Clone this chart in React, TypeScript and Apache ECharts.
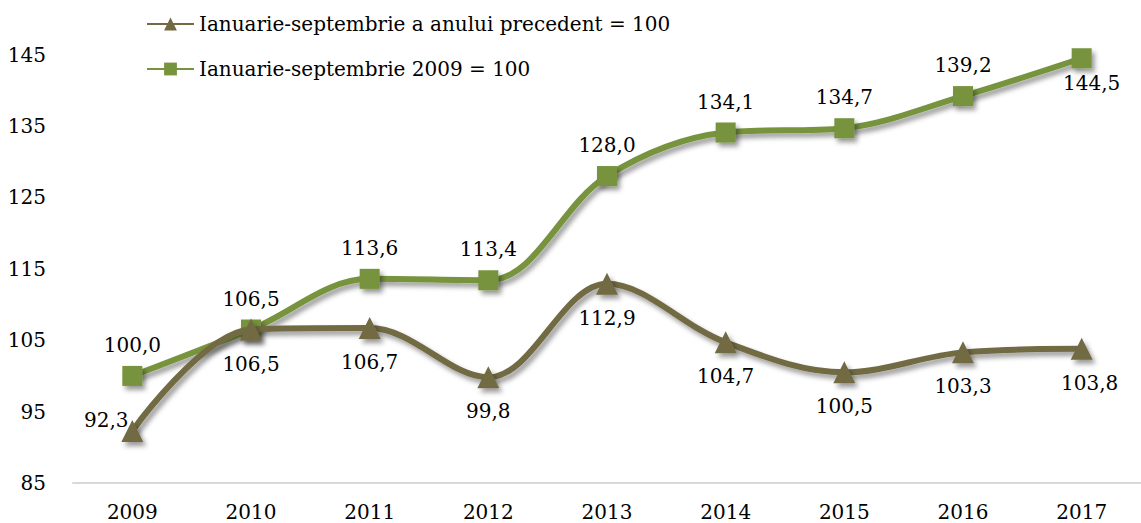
import React, { useEffect, useRef } from "react";
import * as echarts from "echarts";

const years = ["2009", "2010", "2011", "2012", "2013", "2014", "2015", "2016", "2017"];
const prevYearValues = [92.3, 106.5, 106.7, 99.8, 112.9, 104.7, 100.5, 103.3, 103.8];
const base2009Values = [100.0, 106.5, 113.6, 113.4, 128.0, 134.1, 134.7, 139.2, 144.5];
const seriesNames = [
  "Ianuarie-septembrie a anului precedent = 100",
  "Ianuarie-septembrie 2009 = 100",
];

const BROWN = "#716A43";
const GREEN = "#77933C";
const FONT = "DejaVu Serif";

const fmt = (v: number) => v.toFixed(1).replace(".", ",");

export default function App() {
  const ref = useRef<HTMLDivElement>(null);
  useEffect(() => {
    if (!ref.current) return;
    const chart = echarts.init(ref.current, null, { renderer: "svg" });
    const shadow = {
      shadowColor: "rgba(0,0,0,0.4)",
      shadowBlur: 5,
      shadowOffsetX: 3,
      shadowOffsetY: 4,
    };
    const labelBase = {
      show: true,
      fontFamily: FONT,
      fontSize: 20,
      color: "#000",
      formatter: (p: any) => fmt(p.value),
    };
    const brownData = prevYearValues.map((v, i) => {
      if (i === 0) {
        return { value: v, label: { position: "top", distance: 0, offset: [-26, 10] } };
      }
      if (i === 8) {
        return { value: v, label: { position: "bottom", distance: 13, offset: [8, 0] } };
      }
      return { value: v };
    });
    const greenData = base2009Values.map((v, i) => {
      if (i === 8) {
        return { value: v, label: { position: "bottom", distance: 5, offset: [10, 0] } };
      }
      return { value: v };
    });
    chart.setOption({
      animation: false,
      backgroundColor: "#fff",
      textStyle: { fontFamily: FONT },
      grid: { left: 73, right: -15, top: 19, bottom: 40, containLabel: false },
      legend: {
        orient: "vertical",
        left: 141,
        top: 8,
        itemWidth: 47,
        itemHeight: 16,
        itemGap: 23,
        textStyle: { fontFamily: FONT, fontSize: 20, color: "#000", lineHeight: 22 },
        data: seriesNames,
      },
      xAxis: {
        type: "category",
        data: years,
        boundaryGap: true,
        axisLine: { show: true, lineStyle: { color: "#D9D9D9", width: 2 } },
        axisTick: { show: false },
        axisLabel: { fontFamily: FONT, fontSize: 20, color: "#000", margin: 19 },
        splitLine: { show: false },
      },
      yAxis: {
        type: "value",
        min: 85,
        max: 150,
        interval: 10,
        axisLine: { show: false },
        axisTick: { show: false },
        splitLine: { show: false },
        axisLabel: {
          fontFamily: FONT,
          fontSize: 20,
          color: "#000",
          margin: 27,
          showMaxLabel: false,
        },
      },
      series: [
        {
          name: seriesNames[0],
          type: "line",
          data: brownData,
          smooth: 0.35,
          symbol: "triangle",
          symbolSize: 22,
          color: BROWN,
          lineStyle: { color: BROWN, width: 6, ...shadow },
          itemStyle: { color: BROWN, ...shadow },
          label: { ...labelBase, position: "bottom", distance: 13 },
          z: 3,
        },
        {
          name: seriesNames[1],
          type: "line",
          data: greenData,
          smooth: 0.35,
          symbol: "rect",
          symbolSize: 20,
          color: GREEN,
          lineStyle: { color: GREEN, width: 6, ...shadow },
          itemStyle: { color: GREEN, ...shadow },
          label: { ...labelBase, position: "top", distance: 11 },
          z: 2,
        },
      ],
    });
    return () => chart.dispose();
  }, []);
  return (
    <div
      ref={ref}
      style={{ position: "absolute", left: 0, top: 0, width: 1141, height: 523 }}
    />
  );
}
